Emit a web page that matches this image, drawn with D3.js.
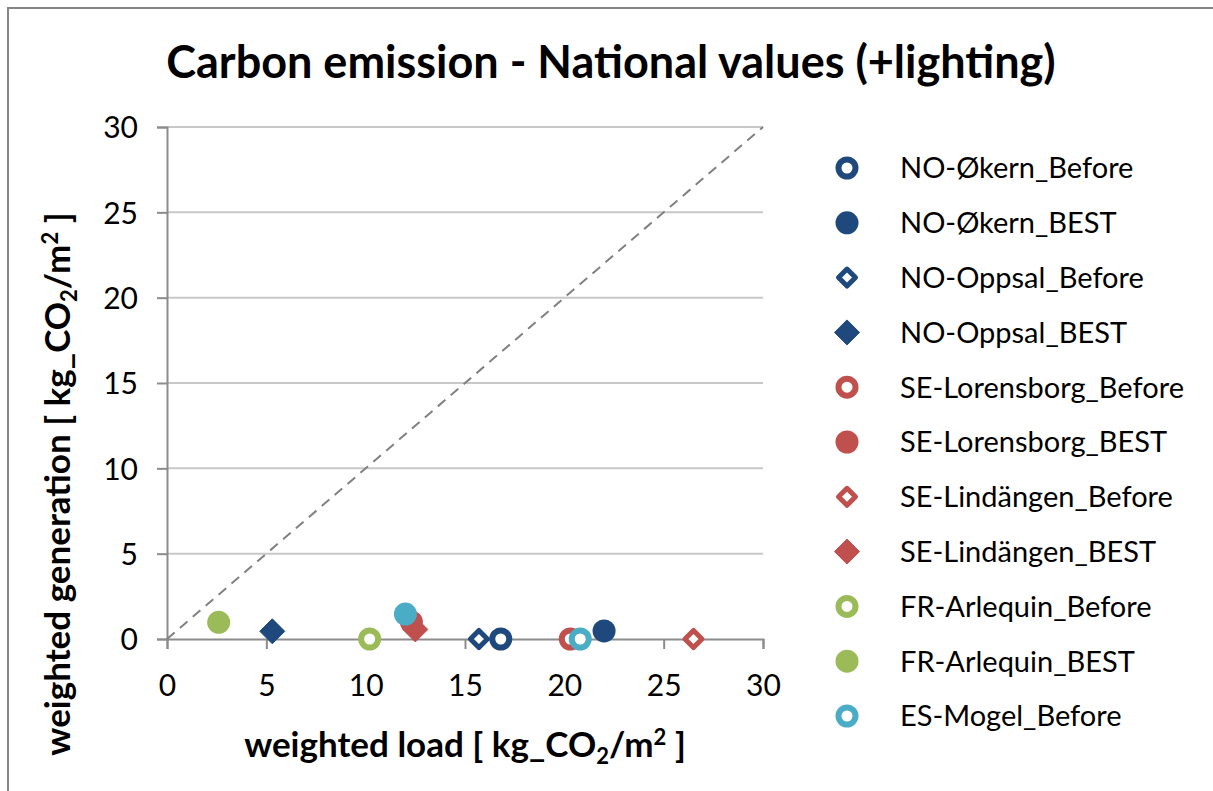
<!DOCTYPE html>
<html>
<head>
<meta charset="utf-8">
<script src="https://cdn.jsdelivr.net/npm/d3@7"></script>
<style>
  body { margin: 0; background: #fff; }
  text { font-family: Lato, "Open Sans", sans-serif; fill: #000; }
</style>
</head>
<body>
<div id="chart"></div>
<script>
// series, in Excel drawing order
var seriesNames = [
  "NO-Økern_Before", "NO-Økern_BEST",
  "NO-Oppsal_Before", "NO-Oppsal_BEST",
  "SE-Lorensborg_Before", "SE-Lorensborg_BEST",
  "SE-Lindängen_Before", "SE-Lindängen_BEST",
  "FR-Arlequin_Before", "FR-Arlequin_BEST",
  "ES-Mogel_Before", "ES-Mogel_BEST"
];
// weighted load (x) and weighted generation (y), kg_CO2/m2
var loadValues = [16.8, 22.0, 15.7, 5.3, 20.3, 12.3, 26.5, 12.5, 10.2, 2.6, 20.8, 12.0];
var generationValues = [0, 0.47, 0, 0.45, 0, 1.0, 0, 0.56, 0, 0.98, 0, 1.46];
// site / marker kind of each series
var siteOf = ["NO-Økern", "NO-Økern", "NO-Oppsal", "NO-Oppsal", "SE-Lorensborg", "SE-Lorensborg",
  "SE-Lindängen", "SE-Lindängen", "FR-Arlequin", "FR-Arlequin", "ES-Mogel", "ES-Mogel"];
var legendCount = 11; // Excel legend cut off after ES-Mogel_Before
var axisTicks = [0, 5, 10, 15, 20, 25, 30];
var diagonal = [0, 30];

var siteColor = {
  "NO-Økern": "#1F497D", "NO-Oppsal": "#1F497D",
  "SE-Lorensborg": "#C0504D", "SE-Lindängen": "#C0504D",
  "FR-Arlequin": "#9BBB59", "ES-Mogel": "#4BACC6"
};
var siteShape = {
  "NO-Økern": "circle", "NO-Oppsal": "diamond",
  "SE-Lorensborg": "circle", "SE-Lindängen": "diamond",
  "FR-Arlequin": "circle", "ES-Mogel": "circle"
};

var svgWidth = 1213;
var svgHeight = 791;

var margin = { top: 127, left: 167 };
var width = 763 - 167;
var height = 639 - 127;

var svg = d3.select("#chart")
  .append("svg")
  .attr("width", svgWidth)
  .attr("height", svgHeight);

// chart area border (right and bottom edges fall outside the picture)
svg.append("rect")
  .attr("x", 8).attr("y", 8)
  .attr("width", svgWidth + 20).attr("height", svgHeight + 20)
  .attr("fill", "none")
  .attr("stroke", "#868686")
  .attr("stroke-width", 2);

// title
svg.append("text")
  .attr("x", 611).attr("y", 78)
  .attr("text-anchor", "middle")
  .style("font-size", "45px")
  .style("font-weight", "bold")
  .text("Carbon emission - National values (+lighting)");

var chartGroup = svg.append("g")
  .attr("transform", `translate(${margin.left}, ${margin.top})`);

var xScale = d3.scaleLinear().domain([0, 30]).range([0, width]);
var yScale = d3.scaleLinear().domain([0, 30]).range([height, 0]);

// horizontal gridlines
chartGroup.selectAll(".grid")
  .data(axisTicks.slice(1))
  .enter()
  .append("line")
  .attr("x1", 0).attr("x2", width)
  .attr("y1", d => yScale(d)).attr("y2", d => yScale(d))
  .attr("stroke", "#C8C8C8")
  .attr("stroke-width", 2);

// y axis
var yAxis = chartGroup.append("g")
  .call(d3.axisLeft(yScale).tickValues(axisTicks).tickSize(10).tickPadding(19).tickFormat(d3.format("d")));

// x axis
var xAxis = chartGroup.append("g")
  .attr("transform", `translate(0, ${height})`)
  .call(d3.axisBottom(xScale).tickValues(axisTicks).tickSize(10).tickPadding(26).tickFormat(d3.format("d")));

[xAxis, yAxis].forEach(function(ax) {
  ax.select(".domain").attr("stroke", "#8C8C8C").attr("stroke-width", 2);
  ax.selectAll(".tick line").attr("stroke", "#8C8C8C").attr("stroke-width", 2);
  ax.selectAll(".tick text")
    .style("font-family", "Lato, sans-serif")
    .style("font-size", "30px")
    .attr("fill", "#000");
});
yAxis.selectAll(".tick text").attr("dy", "0.36em");
xAxis.selectAll(".tick text").attr("dy", "0.7em");

// 1:1 reference line
chartGroup.append("line")
  .attr("x1", xScale(diagonal[0])).attr("y1", yScale(diagonal[0]))
  .attr("x2", xScale(diagonal[1])).attr("y2", yScale(diagonal[1]))
  .attr("stroke", "#808080")
  .attr("stroke-width", 2)
  .attr("stroke-dasharray", "10,7");

// marker drawing
function drawMarker(g, i) {
  var site = siteOf[i];
  var color = siteColor[site];
  var open = /_Before$/.test(seriesNames[i]);
  if (siteShape[site] === "circle") {
    if (open) {
      g.append("circle").attr("r", 8.5)
        .attr("fill", "#fff").attr("stroke", color).attr("stroke-width", 6);
    } else {
      g.append("circle").attr("r", 11.5).attr("fill", color);
    }
  } else {
    if (open) {
      g.append("path").attr("d", "M0,-8.5L8.5,0L0,8.5L-8.5,0Z")
        .attr("fill", "#fff").attr("stroke", color).attr("stroke-width", 5)
        .attr("stroke-linejoin", "round");
    } else {
      g.append("path").attr("d", "M0,-12.5L12.5,0L0,12.5L-12.5,0Z")
        .attr("fill", color).attr("stroke", color).attr("stroke-width", 1)
        .attr("stroke-linejoin", "round");
    }
  }
}

// data points
seriesNames.forEach(function(name, i) {
  var g = chartGroup.append("g")
    .attr("transform", `translate(${xScale(loadValues[i])}, ${yScale(generationValues[i])})`);
  drawMarker(g, i);
});

// legend
var legend = svg.append("g").attr("transform", "translate(847, 168)");
seriesNames.slice(0, legendCount).forEach(function(name, i) {
  var row = legend.append("g").attr("transform", `translate(0, ${i * 54.8})`);
  drawMarker(row, i);
  row.append("text")
    .attr("x", 53).attr("y", 0)
    .attr("dy", "0.36em")
    .style("font-size", "29px")
    .text(name);
});

// axis titles with sub/superscripts
function unitTitle(textSel, label) {
  textSel.append("tspan").text(label + " [ kg_CO");
  textSel.append("tspan").attr("dy", 7).style("font-size", "22px").text("2");
  textSel.append("tspan").attr("dy", -7).text("/m");
  textSel.append("tspan").attr("dy", -12).style("font-size", "22px").text("2");
  textSel.append("tspan").attr("dy", 12).text(" ]");
}

var xTitle = svg.append("text")
  .attr("x", 465).attr("y", 757)
  .attr("text-anchor", "middle")
  .style("font-size", "35px")
  .style("font-weight", "bold");
unitTitle(xTitle, "weighted load");

var yTitle = svg.append("text")
  .attr("transform", "translate(70, 484) rotate(-90)")
  .attr("text-anchor", "middle")
  .style("font-size", "35px")
  .style("font-weight", "bold");
unitTitle(yTitle, "weighted generation");
</script>
</body>
</html>
